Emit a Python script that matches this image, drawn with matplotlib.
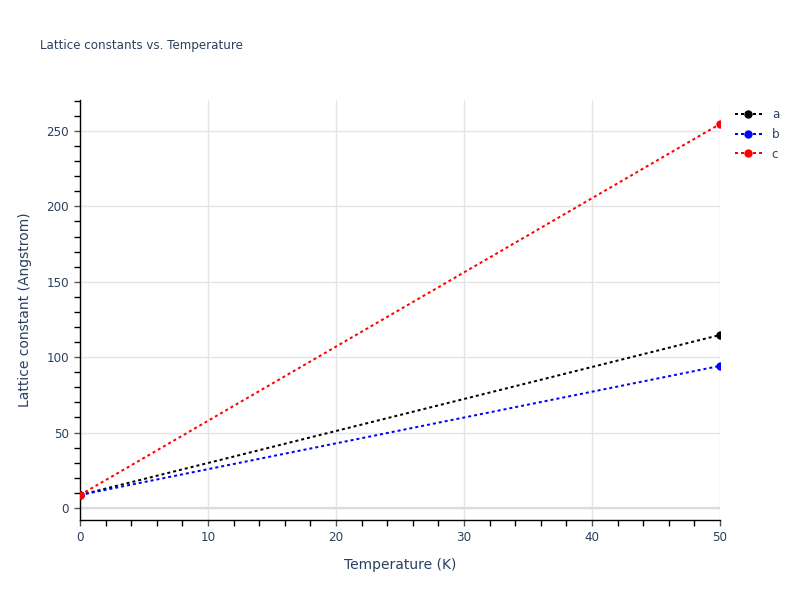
import matplotlib
matplotlib.use("Agg")
import matplotlib.pyplot as plt
from matplotlib.ticker import MultipleLocator

temperature = [0, 50]
a_vals = [8.6, 114.7]
b_vals = [8.6, 94.2]
c_vals = [8.6, 254.6]
series_names = ["a", "b", "c"]
series_colors = ["black", "blue", "red"]

txt = "#2a3f5f"
plt.rcParams["font.family"] = ["DejaVu Sans"]

fig = plt.figure(figsize=(8, 6), dpi=100)
ax = fig.add_axes([0.1, 0.1333, 0.8, 0.7])

for name, vals, col in zip(series_names, [a_vals, b_vals, c_vals], series_colors):
    ax.plot(temperature, vals, color=col, lw=1.44, dashes=(1.5, 1.5),
            marker="o", ms=5, label=name, zorder=3)

ax.set_xlim(0, 50)
ax.set_ylim(-8, 270.5)
ax.xaxis.set_major_locator(MultipleLocator(10))
ax.xaxis.set_minor_locator(MultipleLocator(2))
ax.yaxis.set_major_locator(MultipleLocator(50))
ax.yaxis.set_minor_locator(MultipleLocator(10))
ax.grid(True, which="major", color="#e5e5e5", lw=1)
ax.axhline(0, color="#dcdcdc", lw=1.6, zorder=1)
ax.set_axisbelow(True)

for s in ["top", "right"]:
    ax.spines[s].set_visible(False)
for s in ["left", "bottom"]:
    ax.spines[s].set_color("black")
    ax.spines[s].set_linewidth(1)

ax.tick_params(which="major", direction="out", length=4, width=1, color="#555",
               labelsize=8.6, labelcolor=txt, pad=4)
ax.tick_params(which="minor", direction="out", length=4, width=1, color="black")

ax.set_xlabel("Temperature (K)", fontsize=10, color=txt, labelpad=10)
ax.set_ylabel("Lattice constant (Angstrom)", fontsize=10, color=txt, labelpad=10)
fig.text(0.05, 0.925, "Lattice constants vs. Temperature", fontsize=8.6, color=txt,
         va="center", ha="left")

leg = ax.legend(loc="upper left", bbox_to_anchor=(1.01, 1.0), frameon=False,
                fontsize=8.6, handlelength=2.3, labelspacing=0.55, borderaxespad=0.3)
for t in leg.get_texts():
    t.set_color(txt)

fig.savefig("out.png", dpi=100)
